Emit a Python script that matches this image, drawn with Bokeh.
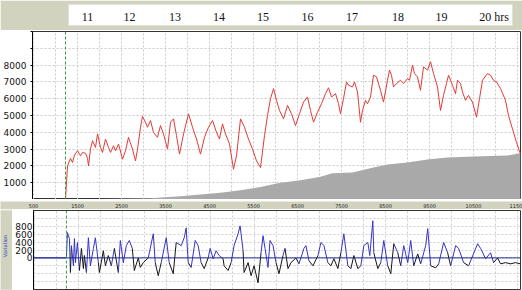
import math
from bokeh.plotting import figure
from bokeh.models import FixedTicker, Span, Range1d
from bokeh.layouts import column, row
from bokeh.embed import file_html
from bokeh.resources import INLINE
from bokeh.core.properties import value

# ---------------- data ----------------
speed_x = [477, 1227, 1273, 1341, 1386, 1432, 1500, 1568, 1614, 1682,
           1727, 1750, 1795, 1841, 1909, 1955, 2023, 2068, 2136, 2205,
           2250, 2318, 2364, 2432, 2523, 2591, 2659, 2750, 2818, 2864,
           2932, 2977, 3045, 3091, 3159, 3227, 3318, 3386, 3455, 3545,
           3614, 3682, 3750, 3818, 3909, 4023, 4114, 4205, 4295, 4386,
           4477, 4568, 4659, 4727, 4795, 4864, 4955, 5045, 5114, 5205,
           5295, 5386, 5477, 5568, 5659, 5750, 5818, 5886, 5955, 6023,
           6091, 6182, 6273, 6364, 6455, 6545, 6636, 6727, 6795, 6864,
           6955, 7045, 7136, 7205, 7273, 7364, 7432, 7477, 7545, 7614,
           7659, 7750, 7795, 7864, 7932, 7977, 8045, 8091, 8159, 8227,
           8295, 8386, 8455, 8545, 8591, 8636, 8682, 8750, 8841, 8909,
           9000, 9045, 9114, 9159, 9227, 9295, 9364, 9455, 9523, 9591,
           9682, 9750, 9818, 9886, 9932, 10023, 10091, 10136, 10205, 10250,
           10318, 10386, 10477, 10568, 10636, 10705, 10818, 10886, 10955, 11023,
           11114, 11227, 11295, 11386, 11477, 11568]
speed_y = [0, 0, 2000, 2450, 2200, 2650, 2900, 2600, 2800, 2750,
           2450, 2000, 3000, 3500, 3100, 3900, 3100, 2800, 3600, 3100,
           2800, 3200, 2900, 3300, 2400, 2900, 3700, 3000, 2300, 3000,
           4300, 4950, 4600, 4300, 4700, 4000, 3700, 4400, 3900, 3000,
           4600, 4800, 3800, 2700, 3900, 5100, 4300, 3600, 2700, 3700,
           4300, 4700, 4000, 3600, 4500, 3900, 3300, 1800, 2600, 4800,
           4300, 3600, 3000, 2300, 1900, 3800, 5000, 6000, 6600, 5900,
           5300, 4800, 5600, 5100, 4400, 5100, 5800, 6100, 5300, 4600,
           5200, 5700, 6300, 6650, 6100, 6300, 5700, 5100, 6000, 7000,
           6800, 6700, 7000, 6400, 4600, 5300, 5900, 5700, 6100, 7400,
           7300, 6500, 5800, 7100, 7700, 7400, 6700, 6900, 7100, 6900,
           7200, 7100, 8000, 7500, 7300, 6500, 7900, 7700, 8200, 7500,
           6700, 5300, 6200, 6900, 7400, 6800, 6300, 7100, 6900, 6400,
           5900, 6200, 5800, 4900, 6000, 7100, 7500, 7400, 7100, 7000,
           6600, 5900, 5000, 4200, 3400, 2700]

cum_x = [1227, 3159, 3841, 4295, 4750, 5205, 5659, 6114, 6568, 7023,
         7295, 7750, 8227, 8545, 9000, 9455, 9909, 10500, 11273, 11523, 11568]
cum_y = [0, 80, 200, 300, 400, 550, 750, 1000, 1150, 1350,
         1560, 1600, 1900, 2080, 2200, 2380, 2500, 2560, 2620, 2740, 2760]

var_x = [477, 1227, 1250, 1295, 1318, 1341, 1386, 1409, 1432, 1477,
         1523, 1568, 1614, 1636, 1682, 1727, 1773, 1841, 1886, 1955,
         1977, 2068, 2114, 2182, 2250, 2318, 2409, 2455, 2523, 2591,
         2659, 2727, 2773, 2864, 2909, 2977, 3091, 3205, 3250, 3318,
         3386, 3500, 3568, 3659, 3727, 3841, 3909, 3955, 4000, 4068,
         4159, 4227, 4295, 4364, 4455, 4500, 4568, 4636, 4705, 4795,
         4818, 4909, 4977, 5045, 5136, 5182, 5250, 5273, 5364, 5432,
         5500, 5591, 5659, 5705, 5750, 5818, 5864, 5932, 6000, 6068,
         6159, 6205, 6273, 6341, 6455, 6523, 6636, 6682, 6750, 6841,
         6955, 7023, 7091, 7182, 7250, 7318, 7409, 7477, 7545, 7636,
         7705, 7773, 7864, 7932, 8000, 8091, 8136, 8205, 8227, 8318,
         8386, 8455, 8545, 8614, 8682, 8773, 8841, 8909, 9000, 9068,
         9136, 9227, 9295, 9409, 9455, 9523, 9636, 9705, 9818, 9909,
         9977, 10091, 10159, 10273, 10386, 10591, 10659, 10773, 10886, 10955,
         11045, 11114, 11227, 11341, 11455, 11568]
var_y = [0, 0, 640, 490, -370, 310, -200, 490, -120, 390,
         -320, 240, -270, 60, -370, 510, -200, 240, 510, -120,
         -370, 180, -200, 60, -200, 240, -370, 440, -120, 310,
         440, 240, -320, 0, -240, -120, 0, 610, -120, -450,
         -120, 510, -120, -400, 390, 310, 510, 760, -120, -240,
         440, 310, -120, -270, 0, 240, -20, 180, 60, -20,
         -200, -320, -120, 310, 610, 810, 180, -370, -120, -450,
         -200, -630, 130, 560, 240, -240, 440, 310, -120, -400,
         60, 240, -270, -120, 0, -150, 240, 310, -70, -200,
         60, 390, 310, -120, -200, -20, -270, 130, 610, -200,
         -270, 60, -270, -200, 310, 390, 60, 940, 130, -270,
         -120, 440, -200, -400, 360, 130, -200, 310, -120, 440,
         -200, 100, -150, 310, 740, -200, -250, -150, 390, 130,
         -200, 310, 240, -120, -200, 360, 240, -20, 130, -120,
         0, -150, -120, -150, -120, -150]

start_x = 1227
hour_labels = ["11", "12", "13", "14", "15", "16", "17", "18", "19", "20 hrs"]
hour_pos = [1727, 2682, 3716, 4716, 5716, 6727, 7739, 8784, 9773, 10966]
bottom_ticks = [500, 1500, 2500, 3500, 4500, 5500, 6500, 7500, 8500, 9500, 10500, 11500]
grid_x = [500, 1000, 1500, 2000, 2500, 3000, 3500, 4000, 4500, 5000, 5500, 6000,
          6500, 7000, 7500, 8000, 8500, 9000, 9500, 10000, 10500, 11000, 11500]
left_ticks = [1000, 2000, 3000, 4000, 5000, 6000, 7000, 8000, 9000, 10000]
small_left = [9000, 10000]
var_ticks = [0, 200, 400, 600, 800]
var_grid = [-800, -600, -400, -200, 0, 200, 400, 600, 800, 1000]
var_title = "Variation"

X0, X1 = 477, 11568
PX = (X1 - X0) / 488.0          # data units per screen pixel in the plot frames
BG = "#d1d3bf"
FONT = "DejaVu Sans"

xr = Range1d(X0, X1)

# ---------------- header (white box = frame) ----------------
hdr = figure(width=522, height=30, x_range=Range1d(X0 + 36 * PX, X1 - 8 * PX),
             y_range=Range1d(0, 1), toolbar_location=None, output_backend="svg",
             min_border_left=68, min_border_right=10, min_border_top=4, min_border_bottom=5)
hdr.axis.visible = False
hdr.grid.visible = False
hdr.background_fill_color = "white"
hdr.border_fill_color = BG
hdr.outline_line_color = "#e2e2da"
hdr.text(x=hour_pos, y=[0.4] * len(hour_pos), text=hour_labels,
         text_font=value("Liberation Serif"), text_font_size="12px",
         text_align="center", text_baseline="middle", text_color="#111111")

# ---------------- main ----------------
main = figure(width=522, height=169, x_range=xr, y_range=Range1d(0, 10000),
              toolbar_location=None, output_backend="svg",
              min_border_left=32, min_border_right=2, min_border_top=1, min_border_bottom=0)
main.border_fill_color = "white"
main.background_fill_color = "white"
main.outline_line_color = "#333333"
main.xaxis.visible = False

main.yaxis.ticker = FixedTicker(ticks=left_ticks)
main.yaxis.major_label_overrides = {t: "" for t in small_left}
main.yaxis.major_label_text_font = FONT
main.yaxis.major_label_text_font_size = "9px"
main.yaxis.major_label_text_color = "#111111"
main.yaxis.major_tick_out = 2
main.yaxis.major_tick_in = 0
main.yaxis.major_label_standoff = 4
main.yaxis.minor_tick_line_color = None
main.yaxis.axis_line_color = "black"

main.xgrid.ticker = FixedTicker(ticks=grid_x)
for g in (main.xgrid, main.ygrid):
    g.grid_line_color = "#c9c9c9"
    g.grid_line_dash = "2 2"

main.varea(x=cum_x, y1=[0] * len(cum_x), y2=cum_y, fill_color="#a9a9a9")
main.line(speed_x, speed_y, line_color="#e23b36", line_width=1)
main.add_layout(Span(location=start_x, dimension="height", line_color="#3f9a3f",
                     line_dash="3 2", line_width=1))

# ---------------- tick strip under the main plot ----------------
strip = figure(width=522, height=10, x_range=Range1d(X0 - 32 * PX, X1 + 2 * PX),
               y_range=Range1d(0, 1), toolbar_location=None, output_backend="svg",
               min_border_left=0, min_border_right=0, min_border_top=0, min_border_bottom=0)
strip.axis.visible = False
strip.grid.visible = False
strip.background_fill_color = BG
strip.border_fill_color = BG
strip.outline_line_color = None
strip.text(x=bottom_ticks, y=[0.55] * len(bottom_ticks), text=[str(t) for t in bottom_ticks],
           text_font=value(FONT), text_font_size="5px", text_color="#222222",
           text_align="center", text_baseline="middle")

# ---------------- lower ----------------
side = figure(width=12, height=81, x_range=Range1d(0, 1), y_range=Range1d(0, 1),
              toolbar_location=None, output_backend="svg",
              min_border_left=0, min_border_right=0, min_border_top=0, min_border_bottom=0)
side.axis.visible = False
side.grid.visible = False
side.background_fill_color = BG
side.border_fill_color = BG
side.outline_line_color = None
side.text(x=[0.4], y=[0.55], text=[var_title], angle=math.pi / 2,
          text_font=value(FONT), text_font_size="5px", text_color="#2a44c0",
          text_align="center", text_baseline="middle")

low = figure(width=510, height=81, x_range=xr, y_range=Range1d(-800, 1200),
             toolbar_location=None, output_backend="svg",
             min_border_left=20, min_border_right=2, min_border_top=1, min_border_bottom=1)
low.border_fill_color = "white"
low.background_fill_color = "white"
low.outline_line_color = "#333333"
low.xaxis.visible = False
low.yaxis.ticker = FixedTicker(ticks=var_ticks)
low.yaxis.major_label_text_font = FONT
low.yaxis.major_label_text_font_size = "9px"
low.yaxis.major_label_text_color = "#111111"
low.yaxis.major_tick_out = 0
low.yaxis.major_tick_in = 0
low.yaxis.major_label_standoff = 1
low.yaxis.minor_tick_line_color = None
low.yaxis.axis_line_color = "black"

low.xgrid.ticker = FixedTicker(ticks=grid_x)
low.ygrid.ticker = FixedTicker(ticks=var_grid)
for g in (low.xgrid, low.ygrid):
    g.grid_line_color = "#cccccc"
    g.grid_line_dash = "2 2"

low.add_layout(Span(location=0, dimension="width", line_color="#1e2a8a", line_width=1))
low.add_layout(Span(location=start_x, dimension="height", line_color="#3f9a3f",
                    line_dash="3 2", line_width=1))

x0 = var_x[:-1]
x1 = var_x[1:]
y0 = var_y[:-1]
y1 = var_y[1:]
seg_colors = ["#3434c4" if (a + b) / 2 >= 0 else "#151515" for a, b in zip(y0, y1)]
low.segment(x0=x0, y0=y0, x1=x1, y1=y1, line_color=seg_colors, line_width=1)

layout = column(row(hdr), main, row(strip), row(side, low, spacing=0), spacing=0)
open("out.html", "w").write(file_html(layout, INLINE))
